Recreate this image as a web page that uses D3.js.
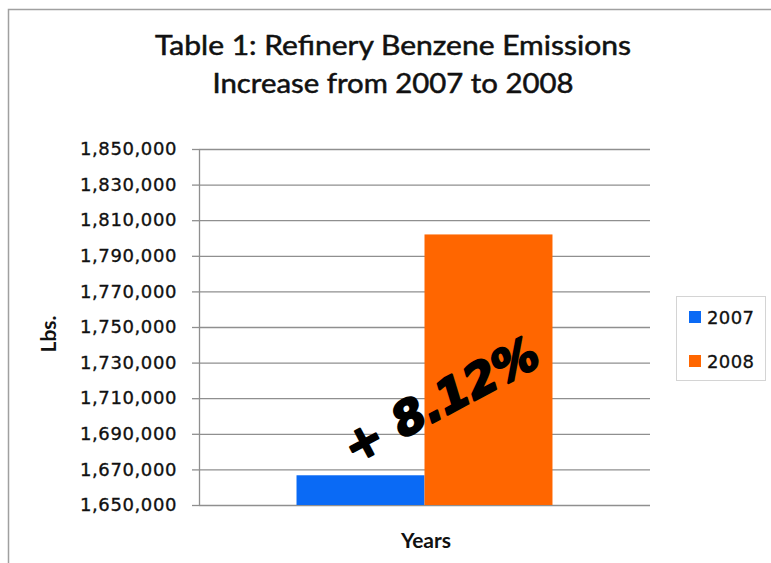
<!DOCTYPE html>
<html>
<head>
<meta charset="utf-8">
<script src="https://cdn.jsdelivr.net/npm/d3@7/dist/d3.min.js"></script>
<style>
  html, body { margin: 0; padding: 0; background: #fff; }
  svg { display: block; }
</style>
</head>
<body>
<svg id="chart" width="771" height="563"></svg>
<script>
// Refinery benzene emissions, pounds per year
const categories = ["Years"];
const seriesNames = ["2007", "2008"];
const seriesValues = [1666700, 1802000];
const seriesColors = ["#0a6af5", "#ff6600"];
const yTickValues = [1650000, 1670000, 1690000, 1710000, 1730000, 1750000,
                     1770000, 1790000, 1810000, 1830000, 1850000];
const titleLines = ["Table 1: Refinery Benzene Emissions", "Increase from 2007 to 2008"];

const svg = d3.select("#chart");

// outer frame
svg.append("path")
  .attr("d", "M8.5,563 L8.5,9.5 L771,9.5")
  .attr("fill", "none")
  .attr("stroke", "#a0a0a0")
  .attr("stroke-width", 1.5);

const plot = { left: 199, right: 650, top: 149, bottom: 505 };

const y = d3.scaleLinear()
  .domain([yTickValues[0], yTickValues[yTickValues.length - 1]])
  .range([plot.bottom, plot.top]);

const x0 = d3.scaleBand()
  .domain(categories)
  .range([plot.left, plot.right])
  .paddingInner(0)
  .paddingOuter(0.381);

const x1 = d3.scaleBand()
  .domain(seriesNames)
  .range([0, x0.bandwidth()]);

// title
svg.append("g").selectAll("text")
  .data(titleLines)
  .join("text")
  .attr("x", 393)
  .attr("y", (d, i) => 55 + i * 38)
  .attr("text-anchor", "middle")
  .attr("font-family", "Lato, 'Open Sans', sans-serif")
  .attr("font-size", 26)
  .attr("fill", "#111")
  .attr("stroke", "#111")
  .attr("stroke-width", 0.5)
  .attr("textLength", (d, i) => i === 0 ? 476 : 361)
  .attr("lengthAdjust", "spacingAndGlyphs")
  .text(d => d);

// gridlines
svg.append("g")
  .attr("transform", `translate(${plot.left},0)`)
  .call(d3.axisLeft(y).tickValues(yTickValues).tickSize(-(plot.right - plot.left)).tickFormat(""))
  .call(g => g.select(".domain").remove())
  .call(g => g.selectAll("line").attr("stroke", "#8f8f8f").attr("stroke-width", 1.3));

// y axis with tick marks and labels
svg.append("g")
  .attr("transform", `translate(${plot.left},0)`)
  .call(d3.axisLeft(y).tickValues(yTickValues).tickSize(7).tickPadding(15).tickFormat(d3.format(",")))
  .call(g => g.select(".domain").attr("stroke", "#8f8f8f").attr("stroke-width", 1.3)
      .attr("d", `M0.5,${plot.top}V${plot.bottom}`))
  .call(g => g.selectAll("line").attr("stroke", "#8f8f8f").attr("stroke-width", 1.3))
  .call(g => g.selectAll("text")
      .attr("font-family", "'DejaVu Sans', sans-serif")
      .attr("font-size", 18)
      .attr("letter-spacing", 0.6)
      .attr("fill", "#111")
      .attr("stroke", "#111")
      .attr("stroke-width", 0.35));

// bars
const barGroup = svg.append("g")
  .attr("transform", `translate(${x0(categories[0])},0)`);
barGroup.selectAll("rect")
  .data(seriesNames.map((s, i) => ({ name: s, value: seriesValues[i], color: seriesColors[i] })))
  .join("rect")
  .attr("x", d => x1(d.name))
  .attr("width", x1.bandwidth())
  .attr("y", d => y(d.value))
  .attr("height", d => y(yTickValues[0]) - y(d.value))
  .attr("fill", d => d.color);

// percentage change annotation
const pct = (seriesValues[1] / seriesValues[0] - 1) * 100;
svg.append("text")
  .attr("transform", "translate(441,400) rotate(-28)")
  .attr("text-anchor", "middle")
  .attr("dominant-baseline", "central")
  .attr("font-family", "'DejaVu Sans', sans-serif")
  .attr("font-weight", "bold")
  .attr("font-style", "italic")
  .attr("font-size", 46)
  .attr("fill", "#000")
  .attr("stroke", "#000")
  .attr("stroke-width", 2.4)
  .attr("stroke-linejoin", "round")
  .text("+ " + pct.toFixed(2) + "%");

// axis titles
svg.append("text")
  .attr("x", 426)
  .attr("y", 548)
  .attr("text-anchor", "middle")
  .attr("font-family", "Lato, sans-serif")
  .attr("font-weight", "bold")
  .attr("font-size", 21)
  .attr("fill", "#111")
  .text(categories[0]);

svg.append("text")
  .attr("transform", "translate(56,334) rotate(-90)")
  .attr("text-anchor", "middle")
  .attr("font-family", "Lato, sans-serif")
  .attr("font-weight", "bold")
  .attr("font-size", 21)
  .attr("fill", "#111")
  .text("Lbs.");

// legend
const legend = svg.append("g");
legend.append("rect")
  .attr("x", 676.5).attr("y", 296.5)
  .attr("width", 89).attr("height", 84)
  .attr("fill", "#fff")
  .attr("stroke", "#d4d4d4");
const items = legend.selectAll("g.item")
  .data(seriesNames)
  .join("g")
  .attr("class", "item")
  .attr("transform", (d, i) => `translate(689,${317 + i * 44})`);
items.append("rect")
  .attr("x", 0).attr("y", -6)
  .attr("width", 12).attr("height", 12)
  .attr("fill", (d, i) => seriesColors[i]);
items.append("text")
  .attr("x", 18)
  .attr("y", 0)
  .attr("dominant-baseline", "central")
  .attr("font-family", "'DejaVu Sans', sans-serif")
  .attr("font-size", 18)
  .attr("letter-spacing", 0.4)
  .attr("fill", "#111")
  .attr("stroke", "#111")
  .attr("stroke-width", 0.3)
  .text(d => d);
</script>
</body>
</html>
